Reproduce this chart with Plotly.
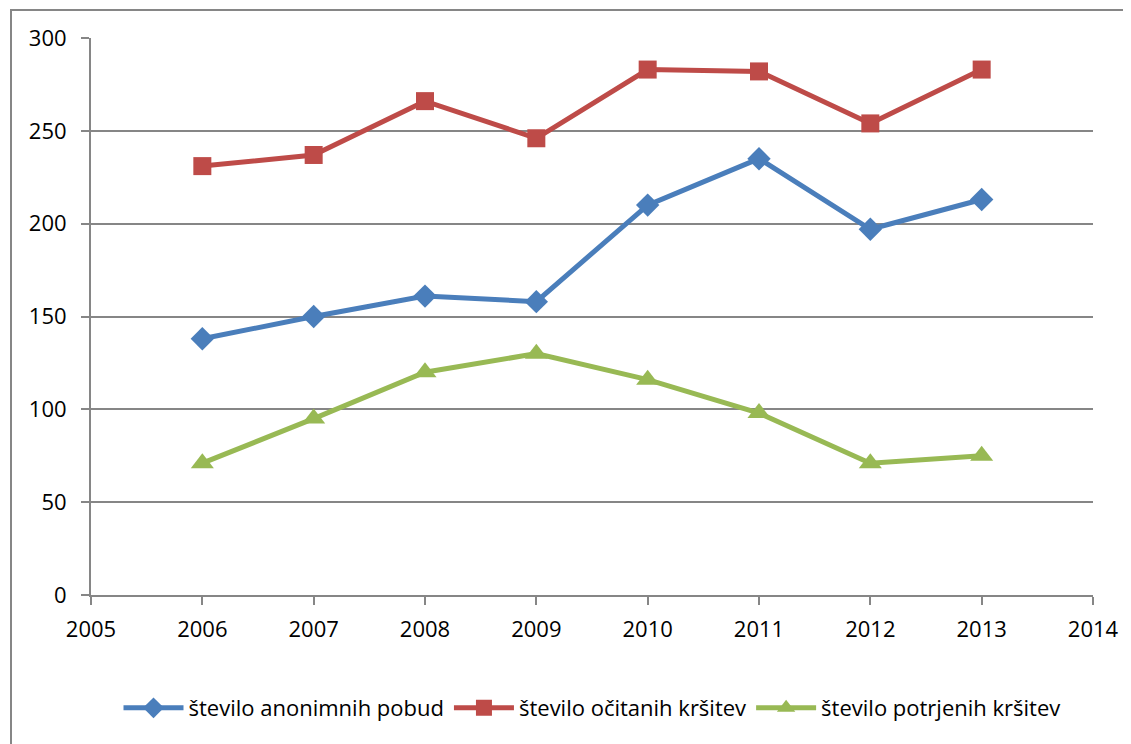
import plotly.graph_objects as go

years = [2006, 2007, 2008, 2009, 2010, 2011, 2012, 2013]
anonimne = [138, 150, 161, 158, 210, 235, 197, 213]
ocitane = [231, 237, 266, 246, 283, 282, 254, 283]
potrjene = [71, 95, 120, 130, 116, 98, 71, 75]

names = ["število anonimnih pobud", "število očitanih kršitev", "število potrjenih kršitev"]
colors = ["#4A7EBB", "#BE4B48", "#98B954"]
symbols = ["diamond", "square", "triangle-up"]
sizes = [18, 18, 20]

fig = go.Figure()
for vals, name, col, sym, sz in zip([anonimne, ocitane, potrjene], names, colors, symbols, sizes):
    fig.add_trace(go.Scatter(x=years, y=vals, name=name, mode="lines+markers",
                             line=dict(color=col, width=5),
                             marker=dict(symbol=sym, size=sz, color=col)))

font = "'Open Sans', sans-serif"
L, T, R, B = 83, 30, 1085, 587
fig.update_layout(
    width=1131, height=744,
    margin=dict(l=L, r=1131 - R, t=T, b=744 - B),
    paper_bgcolor="white", plot_bgcolor="white",
    font=dict(family=font, size=22, color="black"),
    showlegend=True,
    legend=dict(orientation="h", x=0.5, xanchor="center", y=(B - 700) / (B - T), yanchor="middle",
                font=dict(size=22), itemwidth=60, tracegroupgap=0),
    xaxis=dict(range=[2005, 2014], tickmode="linear", tick0=2005, dtick=1,
               showgrid=False, zeroline=False, showline=True, linecolor="#868686", linewidth=2,
               ticks="outside", ticklen=8, tickcolor="#868686", tickwidth=2,
               ticklabelstandoff=6),
    yaxis=dict(range=[0, 300], tickmode="linear", tick0=0, dtick=50,
               showgrid=True, gridcolor="#868686", gridwidth=2, zeroline=False,
               showline=True, linecolor="#868686", linewidth=2,
               ticks="outside", ticklen=8, tickcolor="#868686", tickwidth=2,
               ticklabelstandoff=10),
)
fig.add_shape(type="rect", xref="paper", yref="paper",
              x0=(3 - L) / (R - L), x1=1.2, y0=-0.5, y1=1 + (T - 2) / (B - T),
              line=dict(color="#868686", width=2), layer="below")
fig.write_html("out.html")
